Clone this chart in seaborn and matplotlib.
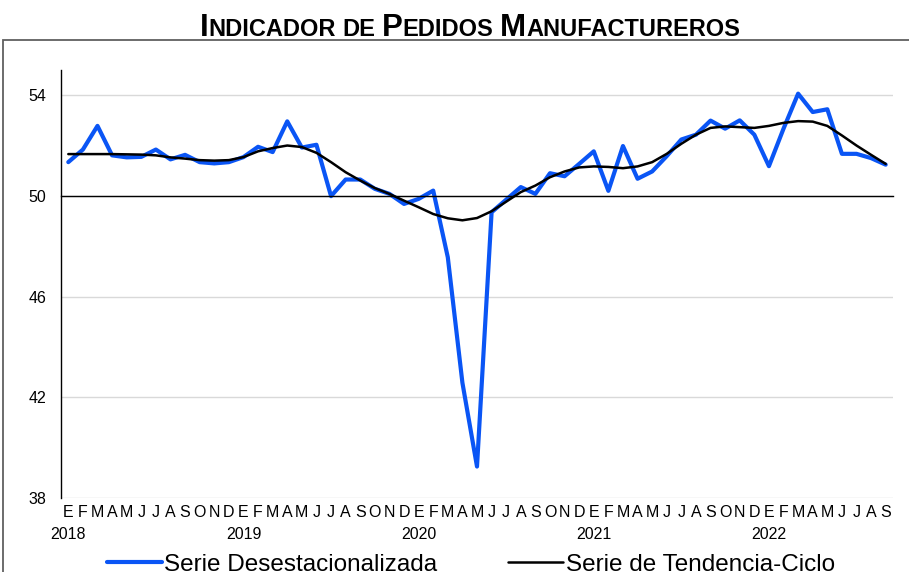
import matplotlib
matplotlib.use("Agg")
import matplotlib.pyplot as plt
from matplotlib.patches import Rectangle
from matplotlib.lines import Line2D
import matplotlib.transforms as mtransforms
import seaborn as sns
import pandas as pd

# data: monthly index Jan 2018 .. Sep 2022
years = ["2018", "2019", "2020", "2021", "2022"]
month_letters = ["E", "F", "M", "A", "M", "J", "J", "A", "S", "O", "N", "D"]

desest = [51.34, 51.84, 52.78, 51.61, 51.53, 51.55, 51.84, 51.45, 51.63, 51.34, 51.29, 51.34,
          51.54, 51.95, 51.74, 52.96, 51.92, 52.03, 49.99, 50.65, 50.65, 50.28, 50.08, 49.68,
          49.88, 50.21, 47.56, 42.58, 39.25, 49.35, 49.85, 50.35, 50.08, 50.90, 50.78, 51.27,
          51.77, 50.20, 51.98, 50.68, 50.97, 51.58, 52.24, 52.43, 52.99, 52.67, 53.00, 52.43,
          51.18, 52.67, 54.06, 53.33, 53.44, 51.67, 51.67, 51.50, 51.24]

tendencia = [51.66, 51.66, 51.66, 51.66, 51.65, 51.64, 51.61, 51.53, 51.48, 51.42, 51.40, 51.42,
             51.54, 51.77, 51.90, 52.00, 51.94, 51.71, 51.34, 50.94, 50.61, 50.31, 50.08, 49.81,
             49.55, 49.28, 49.11, 49.03, 49.12, 49.39, 49.77, 50.15, 50.41, 50.74, 50.97, 51.13,
             51.17, 51.15, 51.10, 51.17, 51.34, 51.67, 52.07, 52.43, 52.70, 52.76, 52.73, 52.70,
             52.78, 52.90, 52.97, 52.95, 52.78, 52.40, 52.00, 51.63, 51.27]

y_ticks = [38, 42, 46, 50, 54]

n = len(desest)
df = pd.DataFrame({
    "mes": list(range(n)) * 2,
    "valor": desest + tendencia,
    "serie": ["Serie Desestacionalizada"] * n + ["Serie de Tendencia-Ciclo"] * n,
})

sns.set_style("white")
plt.rcParams['font.family'] = ['Liberation Sans', 'DejaVu Sans']
plt.rcParams['text.color'] = 'black'
plt.rcParams['xtick.color'] = 'black'
plt.rcParams['ytick.color'] = 'black'

W, H = 909, 572
fig = plt.figure(figsize=(W / 100, H / 100), dpi=100)
ax = fig.add_axes([61 / W, 74 / H, 832 / W, 428 / H])

blue = "#0a55f5"
sns.lineplot(data=df, x="mes", y="valor", hue="serie", size="serie",
             palette={"Serie Desestacionalizada": blue, "Serie de Tendencia-Ciclo": "black"},
             sizes={"Serie Desestacionalizada": 3.0, "Serie de Tendencia-Ciclo": 1.8},
             ax=ax, legend=False)

ax.set_xlim(-0.5, n - 0.5)
ax.set_ylim(38, 55)
ax.set_yticks(y_ticks)
ax.set_yticklabels([str(v) for v in y_ticks], fontsize=11.5, color="black")
ax.yaxis.grid(True, color="#d9d9d9", lw=1.0)
ax.set_xlabel("")
ax.set_ylabel("")

# x axis crosses at 50, year ticks only
ax.spines["top"].set_visible(False)
ax.spines["right"].set_visible(False)
ax.spines["bottom"].set_position(("data", 50))
ax.spines["bottom"].set_color("black")
ax.spines["bottom"].set_linewidth(1.0)
ax.spines["left"].set_color("black")
ax.spines["left"].set_linewidth(1.0)
ax.set_xticks([12 * k - 0.5 for k in range(1, len(years))])
ax.set_xticklabels([])
ax.tick_params(axis="x", direction="inout", length=8, width=1.0, color="black")
ax.tick_params(axis="y", direction="out", length=4.5, width=1.0, color="black", pad=6)

# month letters and year labels under the plot
trans = mtransforms.blended_transform_factory(ax.transData, ax.transAxes)
for i in range(n):
    ax.text(i, -0.044, month_letters[i % 12], transform=trans, ha="center", va="baseline",
            fontsize=11.5, color="black")
for k, yr in enumerate(years):
    ax.text(12 * k, -0.096, yr, transform=trans, ha="center", va="baseline",
            fontsize=11.5, color="black")

# legend (partly cut at the bottom, as in the original)
handles = [Line2D([], [], color=blue, lw=3.0), Line2D([], [], color="black", lw=1.8)]
fig.legend(handles, ["Serie Desestacionalizada", "Serie de Tendencia-Ciclo"],
           loc="center", bbox_to_anchor=(0.518, 0.013), ncol=2, frameon=False,
           fontsize=17.5, handlelength=2.25, handletextpad=0.12, columnspacing=2.9)

# outer frame
fig.patches.append(Rectangle((3 / W, -0.1), 1.2, 1.1 - 40 / H, transform=fig.transFigure,
                             fill=False, edgecolor="#606060", lw=1.3))

# title with small caps look
renderer = fig.canvas.get_renderer()
big, small = 22.5, 17
words = [("I", "NDICADOR"), ("", "DE"), ("P", "EDIDOS"), ("M", "ANUFACTUREROS")]
pieces = []
for w_big, w_small in words:
    if w_big:
        pieces.append(fig.text(0, 0, w_big, fontsize=big, fontweight="bold", va="baseline"))
    pieces.append(fig.text(0, 0, w_small, fontsize=small, fontweight="bold", va="baseline"))
    pieces.append(None)
pieces = pieces[:-1]
gap = 0.278 * small * 100 / 72
widths = [p.get_window_extent(renderer).width if p is not None else gap for p in pieces]
total = sum(widths)
x = 470 - total / 2
base_y = 1 - 36 / H
for p, w in zip(pieces, widths):
    if p is not None:
        p.set_position((x / W, base_y))
    x += w

fig.savefig("out.png", dpi=100)
